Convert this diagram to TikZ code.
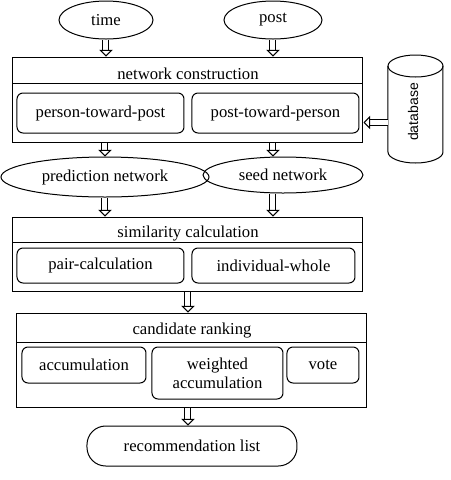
\documentclass[tikz,border=0pt]{standalone}
\usepackage{fontspec}
\setmainfont{Liberation Serif}
\newfontfamily\dbfont{Liberation Sans}
\usetikzlibrary{arrows.meta,shapes.geometric}

\tikzset{every picture/.style={line width=0.75pt}}
\tikzset{
  oval/.style={draw, ellipse, inner sep=0pt},
  frame/.style={draw, rectangle, inner sep=0pt},
  subbox/.style={draw, rectangle, rounded corners=4.5pt, inner sep=0pt, align=center},
  blockarrow/.style={double, double distance=3.75pt, -{Triangle[open, width=10pt, length=5pt]}},
}

\begin{document}
\begin{tikzpicture}[x=0.75pt,y=0.75pt,yscale=-1,xscale=1,font=\fontsize{12.5}{14.5}\selectfont]
	\useasboundingbox (0,0) rectangle (451,480);

	%Shape: Ellipse [id:time]
	\node[oval, minimum width=70.5pt, minimum height=28.5pt] (time) at (106,20) {time};
	%Shape: Ellipse [id:post]
	\node[oval, minimum width=73.5pt, minimum height=28.5pt] (post) at (273,20) {post};

	%Shape: Rectangle [id:netcon]
	\node[frame, minimum width=262.5pt, minimum height=63.75pt] (netcon) at (188,99.5) {};
	\draw (netcon.west |- 0,83) -- (netcon.east |- 0,83) ;
	% Text Node
	\node[anchor=base] (netcontitle) at (188,79.5) {network construction};
	%Shape: Rounded Rect [id:pertopost]
	\node[subbox, minimum width=125.25pt, minimum height=30pt] (pertopost) at (100.5,113) {person-toward-post};
	%Shape: Rounded Rect [id:posttoper]
	\node[subbox, minimum width=125.25pt, minimum height=30pt] (posttoper) at (275.5,113) {post-toward-person};

	%Shape: Can [id:database]
	\draw (388,66) -- (388,152) arc[start angle=180, end angle=0, x radius=27.5, y radius=11] -- (443,66) ;
	\draw (415.5,66) ellipse [x radius=27.5, y radius=11] ;
	% Text Node
	\node[rotate=90, font=\dbfont\fontsize{10.5}{12}\selectfont] (dblabel) at (413,112) {database};
	\coordinate (dbin) at (388,122.5);

	%Shape: Ellipse [id:prednet]
	\node[oval, minimum width=156pt, minimum height=30pt] (prednet) at (105,177) {prediction network};
	%Shape: Ellipse [id:seednet]
	\node[oval, minimum width=120pt, minimum height=27pt] (seednet) at (283,175) {seed network};

	%Shape: Rectangle [id:simcalc]
	\node[frame, minimum width=262.5pt, minimum height=55.5pt] (simcalc) at (188,254) {};
	\draw (simcalc.west |- 0,242) -- (simcalc.east |- 0,242) ;
	% Text Node
	\node[anchor=base] (simcalctitle) at (188,237) {similarity calculation};
	%Shape: Rounded Rect [id:paircalc]
	\node[subbox, minimum width=125.25pt, minimum height=26.25pt] (paircalc) at (100.5,265.5) {pair-calculation};
	%Shape: Rounded Rect [id:indwhole]
	\node[subbox, minimum width=122.25pt, minimum height=26.25pt] (indwhole) at (273.5,265.5) {individual-whole};

	%Shape: Rectangle [id:candrank]
	\node[frame, minimum width=262.5pt, minimum height=70.5pt] (candrank) at (192,360) {};
	\draw (candrank.west |- 0,342) -- (candrank.east |- 0,342) ;
	% Text Node
	\node[anchor=base] (candranktitle) at (192,334) {candidate ranking};
	%Shape: Rounded Rect [id:accum]
	\node[subbox, minimum width=93pt, minimum height=27pt] (accum) at (84,365) {accumulation};
	%Shape: Rounded Rect [id:waccum]
	\node[subbox, minimum width=98.25pt, minimum height=39pt] (waccum) at (217.5,373) {weighted\\accumulation};
	%Shape: Rounded Rect [id:vote]
	\node[subbox, minimum width=54pt, minimum height=27pt] (vote) at (323,365) {vote};

	%Shape: Stadium [id:reclist]
	\node[draw, rectangle, rounded corners=14pt, minimum width=157.5pt, minimum height=30pt, inner sep=0pt] (reclist) at (192,446) {recommendation list};

	%Block Arrows
	\draw[blockarrow] (time.south) -- (time.south |- netcon.north) ;
	\draw[blockarrow] (post.south) -- (post.south |- netcon.north) ;
	\draw[blockarrow] (dbin) -- (netcon.east |- dbin) ;
	\draw[blockarrow] (prednet.north |- netcon.south) -- (prednet.north) ;
	\draw[blockarrow] (post.south |- netcon.south) -- (post.south |- seednet.north) ;
	\draw[blockarrow] (prednet.south) -- (prednet.south |- simcalc.north) ;
	\draw[blockarrow] (post.south |- seednet.south) -- (post.south |- simcalc.north) ;
	\draw[blockarrow] (simcalc.south) -- (simcalc.south |- candrank.north) ;
	\draw[blockarrow] (simcalc.south |- candrank.south) -- (simcalc.south |- reclist.north) ;

\end{tikzpicture}
\end{document}
